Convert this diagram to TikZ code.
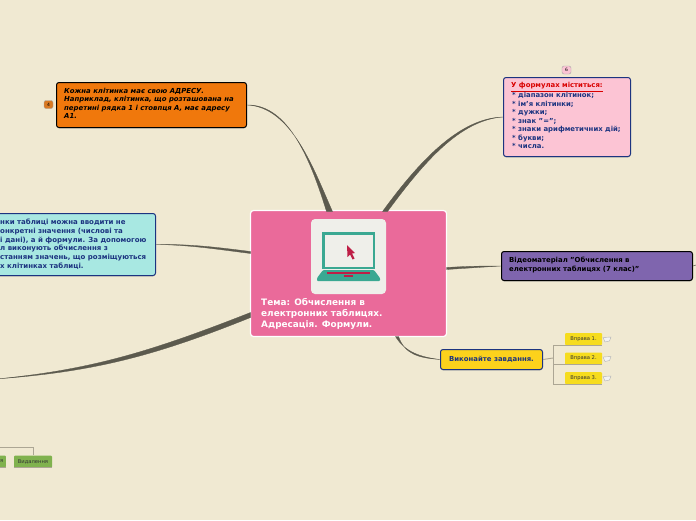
\documentclass[tikz,border=0pt]{standalone}
\usepackage{fontspec}
\setmainfont{DejaVu Sans}
\usetikzlibrary{calc, shadows}
\definecolor{paper}{RGB}{240, 233, 210}
\definecolor{linkgray}{RGB}{92, 90, 78}
\definecolor{treegray}{RGB}{172, 166, 148}
\definecolor{topicpink}{RGB}{234, 106, 154}
\definecolor{iconwhite}{RGB}{239, 239, 234}
\definecolor{laptopteal}{RGB}{58, 168, 146}
\definecolor{cursorred}{RGB}{190, 30, 70}
\definecolor{orangebox}{RGB}{240, 120, 12}
\definecolor{pinkbox}{RGB}{252, 196, 212}
\definecolor{tealbox}{RGB}{168, 232, 226}
\definecolor{purplebox}{RGB}{127, 101, 174}
\definecolor{yellowbox}{RGB}{252, 210, 28}
\definecolor{navytext}{RGB}{28, 52, 128}
\definecolor{taskyellow}{RGB}{246, 220, 30}
\definecolor{taskgreen}{RGB}{128, 178, 78}
\tikzset{
  boxnode/.style={draw, line width=1pt, rounded corners=2.5pt, anchor=north west, inner sep=0pt,
    align=left, drop shadow={opacity=0.35, shadow xshift=0pt, shadow yshift=-1pt},
    font=\bfseries\fontsize{6.9}{8.5}\selectfont},
  badge/.style={draw=gray!70, rounded corners=2pt, minimum width=9pt, minimum height=8pt, inner sep=0pt,
    font=\fontsize{4.5}{4.5}\selectfont},
  tasknode/.style={fill=taskyellow, rounded corners=1pt, minimum width=37pt, minimum height=12pt, inner sep=0pt,
    text=black!80, font=\fontsize{5.2}{6}\selectfont},
  link/.style={fill=linkgray, draw=linkgray, line width=0.3pt},
  treeline/.style={draw=treegray, line width=0.9pt},
  notemark/.style={fill=white!90!gray, draw=gray!60, line width=0.4pt}
}
\begin{document}
\begin{tikzpicture}[x=1pt, y=-1pt]
    \path[use as bounding box, fill=paper] (0,0) rectangle (696,520);

    \node[draw=white, line width=1.2pt, fill=topicpink, rounded corners=3pt, minimum width=196pt, minimum height=126pt, inner sep=0pt] (topic) at (348.5,273.5) {};
    \node[boxnode, fill=orangebox, minimum width=190pt, minimum height=45pt] (cell) at (56,82) {};
    \node[boxnode, draw=navytext, fill=pinkbox, minimum width=127pt, minimum height=79pt] (formula) at (503,77) {};
    \node[boxnode, draw=navytext, fill=tealbox, minimum width=165pt, minimum height=62pt] (table) at (-10,213) {};
    \node[boxnode, fill=purplebox, minimum width=191pt, minimum height=29pt] (video) at (501,251) {};
    \node[boxnode, draw=navytext, fill=yellowbox, minimum width=102pt, minimum height=20pt] (exercise) at (440,349) {};
    \coordinate (offleft) at (-4,379);
    \coordinate (offright) at (696,265);

    % tapered links out of the topic
    \fill[link] ($(topic.center)+(-22,-62)$) .. controls (312,165) and (290,104) .. (cell.east) .. controls (292,107) and (314,170) .. ($(topic.center)+(-16,-62)$) -- cycle;
    \fill[link] ($(topic.center)+(34,-62)$) .. controls (420,160) and (460,118) .. (formula.west) .. controls (460,120) and (424,162) .. ($(topic.center)+(39,-62)$) -- cycle;
    \fill[link] ($(topic.center)+(-98,-22)$) .. controls (215,247) and (190,244) .. (table.east) .. controls (190,245) and (215,249) .. ($(topic.center)+(-98,-20)$) -- cycle;
    \fill[link] ($(topic.center)+(98,-6)$) .. controls (470,266) and (485,266) .. (video.west) .. controls (485,267) and (470,268) .. ($(topic.center)+(98,-4)$) -- cycle;
    \fill[link] ($(topic.center)+(47,63)$) .. controls (405,352) and (420,357) .. (exercise.west) .. controls (420,358) and (405,355) .. ($(topic.center)+(50,63)$) -- cycle;
    \fill[link] ($(topic.center)+(-98,39)$) .. controls (150,352) and (90,370) .. (offleft) .. controls (90,372) and (150,358) .. ($(topic.center)+(-98,44)$) -- cycle;
    \draw[linkgray, line width=0.5pt] (video.east) -- (offright);

    % topic content
    \fill[iconwhite, rounded corners=4pt] (311,219) rectangle (386,294);
    \draw[laptopteal, line width=2.6pt] (323.5,233.5) rectangle (374,268);
    \fill[laptopteal, rounded corners=1pt] (323,270) -- (374,270) -- (380,278) -- (380,281) -- (317,281) -- (317,278) -- cycle;
    \fill[cursorred] (327,272) rectangle (370,274);
    \fill[cursorred] (344,275) rectangle (353,277);
    \fill[cursorred] (347,245) -- (355,253) -- (352,253.5) -- (354.5,258.5) -- (352.5,259.5) -- (350,254.5) -- (347.5,257) -- cycle;
    \node[anchor=north west, inner sep=0pt, align=left, text=white, font=\bfseries\fontsize{8.9}{11}\selectfont] (title) at (261,298) {Тема: Обчислення в\\електронних таблицях.\\Адресація. Формули.};

    % box texts
    \node[anchor=north west, inner sep=0pt, align=left, font=\bfseries\itshape\fontsize{6.9}{8.5}\selectfont] (celltext) at (64,88) {Кожна клітинка має свою АДРЕСУ.\\Наприклад, клітинка, що розташована на\\перетині рядка 1 і стовпця А, має адресу\\А1.};
    \node[anchor=north west, inner sep=0pt, align=left, text=navytext, font=\bfseries\fontsize{6.9}{8.5}\selectfont] (formulatext) at (511,82.5) {\textcolor{red!85!black}{\underline{У формулах міститься:}}\\\hspace{1pt}* діапазон клітинок;\\\hspace{1pt}* ім'я клітинки;\\\hspace{1pt}* дужки;\\\hspace{1pt}* знак "=";\\\hspace{1pt}* знаки арифметичних дій;\\\hspace{1pt}* букви;\\\hspace{1pt}* числа.};
    \node[anchor=north west, inner sep=0pt, align=left, text=navytext, font=\bfseries\fontsize{7}{8.7}\selectfont] (tabletext) at (0,219) {нки таблиці можна вводити не\\онкретні значення (числові та\\і дані), а й формули. За допомогою\\л виконують обчислення з\\станням значень, що розміщуються\\х клітинках таблиці.};
    \node[anchor=north west, inner sep=0pt, align=left, font=\bfseries\fontsize{6.9}{9}\selectfont] (videotext) at (509,257) {Відеоматеріал "Обчислення в\\електронних таблицях (7 клас)"};
    \node[inner sep=0pt, text=navytext, font=\bfseries\fontsize{6.9}{8.5}\selectfont] (exercisetext) at (exercise.center) {Виконайте завдання.};

    \node[badge, fill=orangebox!80!gray] (cellbadge) at (48.5,104.5) {4};
    \node[badge, fill=pinkbox] (formulabadge) at (566.5,70) {6};

    % exercise tree
    \coordinate (trunk) at (553,358);
    \draw[treeline] (exercise.east) -- (trunk);
    \foreach \n/\y in {1/339, 2/358.5, 3/378}{
      \node[tasknode] (task\n) at (583.5,\y) {Вправа \n.};
      \draw[treeline] (trunk) |- (task\n.south west) -- (task\n.south east);
      \fill[notemark] (603,\y-1.5) -- (611,\y-2) -- (609.5,\y+2) -- (605,\y+3) -- cycle;
    }

    % green branch, cut by the left edge
    \node[tasknode, fill=taskgreen, minimum width=38pt] (remove) at (33,461.5) {Видалення};
    \node[tasknode, fill=taskgreen, minimum width=8pt, anchor=east] (cutoff) at (6,461.5) {я};
    \coordinate (branchleft) at (0,447);
    \draw[treeline] (branchleft) -| (remove.north);
    \draw[treegray, line width=1pt] (cutoff.south west) -- (cutoff.south east);
    \draw[treegray, line width=1pt] (remove.south west) -- (remove.south east);
\end{tikzpicture}
\end{document}
